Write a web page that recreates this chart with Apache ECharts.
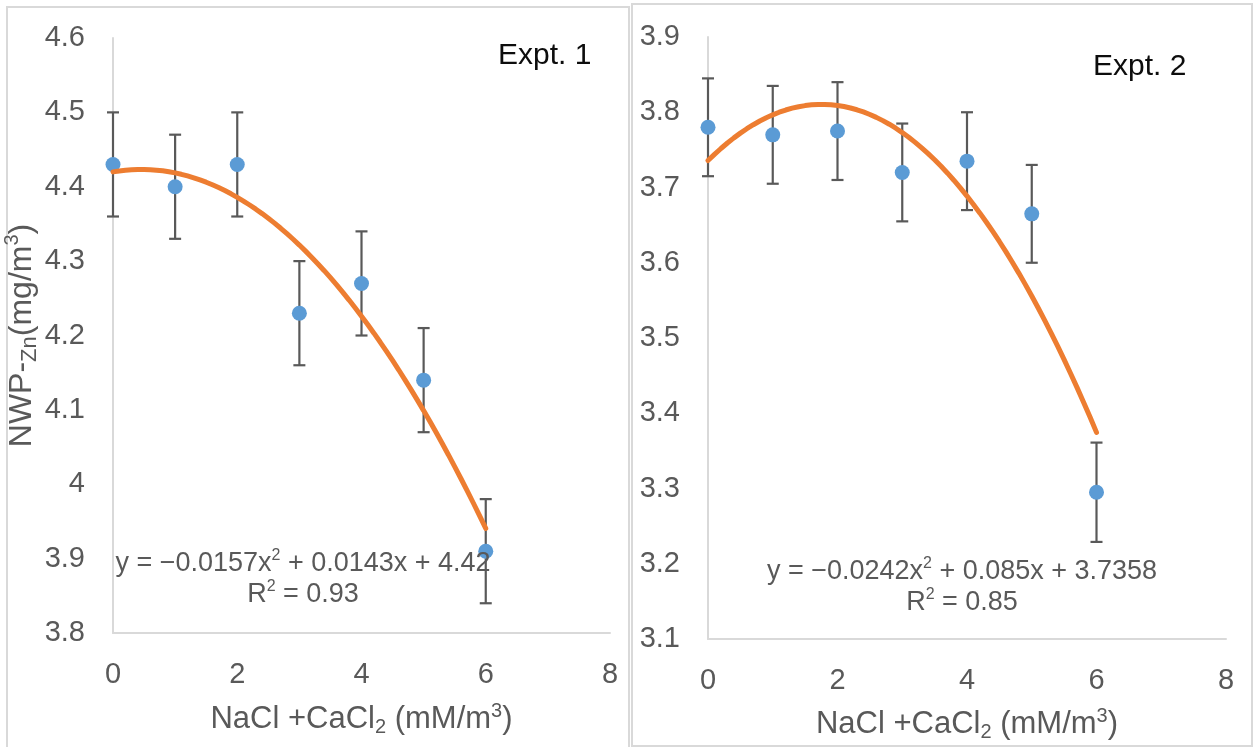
<!DOCTYPE html>
<html>
<head>
<meta charset="utf-8">
<title>NWP-Zn vs NaCl + CaCl2</title>
<script src="https://cdn.jsdelivr.net/npm/echarts@6/dist/echarts.min.js"></script>
<style>
  html, body { margin: 0; padding: 0; background: #fff; }
  #chart { width: 1259px; height: 747px; }
</style>
</head>
<body>
<div id="chart"></div>
<script>
// Salt treatment levels (x) shared by both experiments
const saltLevels = [0, 1, 2, 3, 4, 5, 6];

// Experiment 1: mean NWP-Zn and error half-width
const expt1Mean = [4.43, 4.40, 4.43, 4.23, 4.27, 4.14, 3.91];
const expt1Err = [0.07, 0.07, 0.07, 0.07, 0.07, 0.07, 0.07];

// Experiment 2: mean NWP-Zn and error half-width
const expt2Mean = [3.78, 3.77, 3.775, 3.72, 3.735, 3.665, 3.295];
const expt2Err = [0.065, 0.065, 0.065, 0.065, 0.065, 0.065, 0.066];

// Quadratic trendline coefficients [a, b, c] for y = a x^2 + b x + c
const expt1Fit = [-0.0157, 0.0143, 4.42];
const expt2Fit = [-0.0242, 0.085, 3.7358];
const expt1R2 = '0.93';
const expt2R2 = '0.85';

// Axis ranges
const xAxisRange = [0, 8, 2];
const expt1YRange = [3.8, 4.6, 0.1];
const expt2YRange = [3.1, 3.9, 0.1];

const FONT = '"Liberation Sans", Arial, sans-serif';
const TEXT_GREY = '#595959';
const AXIS_GREY = '#d9d9d9';

function points(xs, ys) { return xs.map((x, i) => [x, ys[i]]); }
function errorRows(xs, ys, es) { return xs.map((x, i) => [x, ys[i] - es[i], ys[i] + es[i]]); }
function fitCurve(coef, x0, x1, n) {
  const out = [];
  for (let i = 0; i <= n; i++) {
    const x = x0 + (x1 - x0) * i / n;
    out.push([x, coef[0] * x * x + coef[1] * x + coef[2]]);
  }
  return out;
}
function fmtCoef(v) { return String(Math.abs(v)); }
function equationText(coef) {
  const a = coef[0] < 0 ? '\u2212' + fmtCoef(coef[0]) : fmtCoef(coef[0]);
  const b = (coef[1] < 0 ? ' \u2212 ' : ' + ') + fmtCoef(coef[1]);
  const c = (coef[2] < 0 ? ' \u2212 ' : ' + ') + fmtCoef(coef[2]);
  return 'y = ' + a + 'x{sup|2}' + b + 'x' + c;
}

function errorBarRender(params, api) {
  const x = api.value(0);
  const lo = api.coord([x, api.value(1)]);
  const hi = api.coord([x, api.value(2)]);
  const cap = 6;
  const style = { stroke: TEXT_GREY, lineWidth: 2.2 };
  return {
    type: 'group',
    children: [
      { type: 'line', shape: { x1: hi[0], y1: hi[1], x2: lo[0], y2: lo[1] }, style },
      { type: 'line', shape: { x1: hi[0] - cap, y1: hi[1], x2: hi[0] + cap, y2: hi[1] }, style },
      { type: 'line', shape: { x1: lo[0] - cap, y1: lo[1], x2: lo[0] + cap, y2: lo[1] }, style }
    ]
  };
}

function xAxisCfg(gridIndex, gap) {
  return {
    gridIndex, type: 'value',
    min: xAxisRange[0], max: xAxisRange[1], interval: xAxisRange[2],
    axisLine: { show: true, onZero: false, lineStyle: { color: AXIS_GREY, width: 2 } },
    axisTick: { show: false }, splitLine: { show: false },
    axisLabel: { color: TEXT_GREY, fontSize: 29, margin: 27, fontFamily: FONT },
    name: 'NaCl +CaCl{sub|2} (mM/m{sup|3})',
    nameLocation: 'middle', nameGap: gap,
    nameTextStyle: {
      color: TEXT_GREY, fontSize: 31, fontFamily: FONT, lineHeight: 36,
      rich: {
        sup: { fontSize: 20, verticalAlign: 'top', lineHeight: 36, color: TEXT_GREY, fontFamily: FONT },
        sub: { fontSize: 20, verticalAlign: 'bottom', lineHeight: 31, color: TEXT_GREY, fontFamily: FONT }
      }
    }
  };
}

function yAxisCfg(gridIndex, range, withName) {
  const cfg = {
    gridIndex, type: 'value',
    min: range[0], max: range[1], interval: range[2],
    axisLine: { show: true, lineStyle: { color: AXIS_GREY, width: 2 } },
    axisTick: { show: false }, splitLine: { show: false },
    axisLabel: {
      color: TEXT_GREY, fontSize: 29, margin: 28, fontFamily: FONT,
      formatter: v => String(+v.toFixed(1))
    }
  };
  if (withName) {
    Object.assign(cfg, {
      name: 'NWP-{sub|Zn}(mg/m{sup|3})',
      nameLocation: 'middle', nameRotate: 90, nameGap: 63,
      nameTextStyle: {
        color: TEXT_GREY, fontSize: 32, fontFamily: FONT, lineHeight: 38,
        rich: {
          sup: { fontSize: 20, verticalAlign: 'top', lineHeight: 38, color: TEXT_GREY, fontFamily: FONT },
          sub: { fontSize: 22, verticalAlign: 'bottom', lineHeight: 32, color: TEXT_GREY, fontFamily: FONT }
        }
      }
    });
  }
  return cfg;
}

function panelSeries(idx, mean, err, coef) {
  return [
    {
      type: 'custom', xAxisIndex: idx, yAxisIndex: idx, z: 2,
      renderItem: errorBarRender,
      data: errorRows(saltLevels, mean, err)
    },
    {
      type: 'scatter', xAxisIndex: idx, yAxisIndex: idx, z: 3,
      symbolSize: 15, itemStyle: { color: '#5b9bd5', opacity: 1 },
      data: points(saltLevels, mean)
    },
    {
      type: 'line', xAxisIndex: idx, yAxisIndex: idx, z: 4,
      showSymbol: false, smooth: false,
      lineStyle: { color: '#ed7d31', width: 5, cap: 'round' },
      data: fitCurve(coef, saltLevels[0], saltLevels[saltLevels.length - 1], 60)
    }
  ];
}

function eqGraphic(cx, cy, coef, r2) {
  return {
    type: 'text', x: cx, y: cy, z: 10,
    style: {
      text: equationText(coef) + '\nR{sup|2} = ' + r2,
      align: 'center', verticalAlign: 'middle',
      fill: TEXT_GREY, font: '27px ' + FONT, lineHeight: 31,
      rich: {
        sup: { fontSize: 16, verticalAlign: 'top', lineHeight: 31, fill: TEXT_GREY, fontFamily: FONT }
      }
    }
  };
}

const chart = echarts.init(document.getElementById('chart'), null, { renderer: 'canvas' });
chart.setOption({
  animation: false,
  backgroundColor: '#ffffff',
  grid: [
    { left: 113, top: 38, width: 497, height: 595 },
    { left: 708, top: 37, width: 518, height: 606 }
  ],
  xAxis: [xAxisCfg(0, 68), xAxisCfg(1, 67)],
  yAxis: [yAxisCfg(0, expt1YRange, true), yAxisCfg(1, expt2YRange, false)],
  series: [].concat(
    panelSeries(0, expt1Mean, expt1Err, expt1Fit),
    panelSeries(1, expt2Mean, expt2Err, expt2Fit)
  ),
  graphic: [
    { type: 'rect', shape: { x: 7, y: 7, width: 622, height: 745 },
      style: { fill: 'none', stroke: AXIS_GREY, lineWidth: 2 }, z: -1 },
    { type: 'rect', shape: { x: 632, y: 4, width: 620, height: 742 },
      style: { fill: 'none', stroke: AXIS_GREY, lineWidth: 2 }, z: -1 },
    { type: 'text', x: 498, y: 56, style: { text: 'Expt. 1', fill: '#0d0d0d', font: '30px ' + FONT, verticalAlign: 'middle' } },
    { type: 'text', x: 1093, y: 67, style: { text: 'Expt. 2', fill: '#0d0d0d', font: '30px ' + FONT, verticalAlign: 'middle' } },
    eqGraphic(303, 579, expt1Fit, expt1R2),
    eqGraphic(962, 587, expt2Fit, expt2R2)
  ]
});
</script>
</body>
</html>
